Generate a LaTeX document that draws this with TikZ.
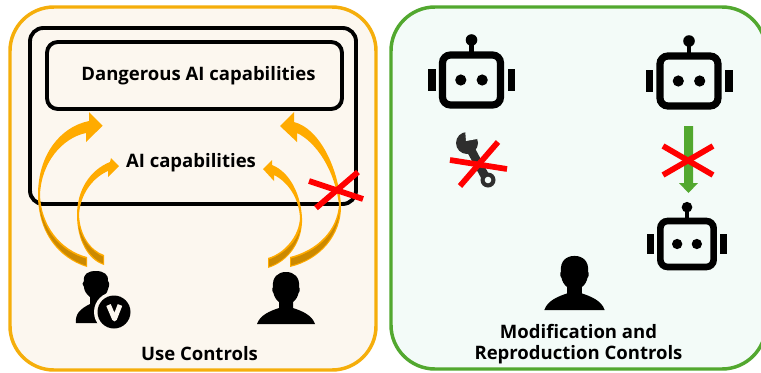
\documentclass[tikz,border=0pt]{standalone}
\usepackage{fontspec}
\setmainfont{Open Sans}
\definecolor{orangeedge}{HTML}{F5AE0B}
\definecolor{arrowor}{HTML}{FFAB00}
\definecolor{arrowdk}{HTML}{CC8900}
\definecolor{creamfill}{HTML}{FCF7EF}
\definecolor{greenedge}{HTML}{52A82F}
\definecolor{mintfill}{HTML}{F3FBF8}
\definecolor{crossred}{HTML}{FF0000}
\definecolor{wrench}{HTML}{2E2E2E}
\tikzset{
  x=0.75pt,y=-0.75pt,
  panel/.style={line width=2.6pt,rounded corners=33pt},
  box/.style={draw=black,line width=2.9pt},
  lbl/.style={font=\bfseries\fontsize{13.9}{15.75}\selectfont,text=black,inner sep=0pt,align=center},
  crossbar/.style={draw=crossred,line width=4.3pt},
}
\newcommand{\robot}[3]{%
\begin{scope}[shift={(#1,#2)},scale=#3]
  \draw[black,line width=#3*5.4pt,rounded corners=#3*6pt] (-29,-25) rectangle (29,25);
  \fill[black] (-43.5,-11) rectangle (-36,11);
  \fill[black] (36,-11) rectangle (43.5,11);
  \fill[black] (-2.2,-38) rectangle (2.2,-26);
  \fill[black] (0,-40) circle (5.8);
  \fill[black] (-10.7,0) circle (5.6);
  \fill[black] (10.7,0) circle (5.6);
\end{scope}}
\newcommand{\person}[3]{%
\begin{scope}[shift={(#1,#2)},scale=#3]
  \fill[black] (-29,0) .. controls (-26,-9) and (-16,-13) .. (-7,-16) -- (-7,-22)
    .. controls (-10,-24) and (-12,-28) .. (-12.5,-31) .. controls (-14,-32) and (-14,-36) .. (-13,-37)
    .. controls (-14,-47) and (-8,-52) .. (0,-52) .. controls (8,-52) and (14,-47) .. (13,-37)
    .. controls (14,-36) and (14,-32) .. (12.5,-31) .. controls (12,-28) and (10,-24) .. (7,-22)
    -- (7,-16) .. controls (16,-13) and (26,-9) .. (29,0) -- cycle;
\end{scope}}
\newcommand{\cross}[4]{\draw[crossbar] (#1) -- (#2); \draw[crossbar] (#3) -- (#4);}
\begin{document}
\begin{tikzpicture}
\useasboundingbox (0,0) rectangle (761,372);
\fill[white] (0,0) rectangle (761,372);
\draw[panel,draw=orangeedge,fill=creamfill] (10,7) rectangle (376,370);
\draw[panel,draw=greenedge,fill=mintfill] (391,7) rectangle (766,369);
\draw[box,rounded corners=10pt] (30,28) rectangle (356,204);
\draw[box,rounded corners=8pt] (47,42) rectangle (342,109);
\node[lbl] (danger) at (198.5,76) {Dangerous AI capabilities};
\node[lbl] (aicap) at (191,163) {AI capabilities};
\node[lbl] (use) at (199.5,354) {Use Controls};
\node[lbl] (mod) at (578.5,344) {Modification and\\Reproduction Controls};
% left outer arrow
\fill[arrowor] (87,267) .. controls (58,258) and (38,232) .. (38,195) .. controls (38,155) and (60,127) .. (89,121) -- (89,112) -- (102.7,125.7) -- (86,142) -- (86,133) .. controls (62,138) and (41,163) .. (40,195) .. controls (41,225) and (60,250) .. (87,257) -- cycle;
\fill[arrowdk] (86,265.5) .. controls (60,257) and (41,232) .. (39.5,205) .. controls (44,232) and (62,252) .. (86,258.5) -- cycle;
% left inner arrow
\fill[arrowor] (104,265) .. controls (88,260) and (77,240) .. (77,215) .. controls (77,190) and (90,170) .. (110,162) -- (111,158) -- (119,166) -- (108,177) -- (108,171) .. controls (92,178) and (80,195) .. (79,215) .. controls (80,235) and (90,250) .. (104,255) -- cycle;
\fill[arrowdk] (103,263.5) .. controls (90,258) and (80,242) .. (78.5,225) .. controls (82,240) and (92,252) .. (103,256.5) -- cycle;
% right inner arrow
\fill[arrowor] (268,268) .. controls (288,262) and (303,242) .. (302,218) .. controls (301,195) and (290,172) .. (272,165) -- (272,160) -- (263,169) -- (274,181) -- (274,175) .. controls (288,182) and (299,198) .. (300,218) .. controls (299,236) and (285,253) .. (268,258) -- cycle;
\fill[arrowdk] (269,266.5) .. controls (286,261) and (298,245) .. (300.5,228) .. controls (297,242) and (284,254) .. (269,259.5) -- cycle;
% right outer arrow
\fill[arrowor] (290,267) .. controls (320,260) and (342,235) .. (341,205) .. controls (338,165) and (318,128) .. (294,122) -- (294,112) -- (280,126) -- (297,142) -- (297,133) .. controls (316,142) and (335,170) .. (339,205) .. controls (337,230) and (318,250) .. (290,257) -- cycle;
\fill[arrowdk] (291,265.5) .. controls (318,259) and (337,238) .. (339.5,212) .. controls (335,235) and (316,252) .. (291,258.5) -- cycle;
% cross on the right arrow
\cross{309,181}{363,199}{358,172}{316,208}
% users
\person{286}{324}{1}
\fill[black] (76,323) .. controls (75,314) and (80,309) .. (90,304) -- (90,297)
  .. controls (86,294) and (84,290) .. (84,287) .. controls (82,285) and (82,282) .. (84,281)
  .. controls (83,274) and (88,271) .. (96,271) .. controls (104,271) and (109,275) .. (108,281)
  .. controls (110,283) and (109,287) .. (108,289) .. controls (107,293) and (105,296) .. (102,298)
  -- (102,304) -- (106,306) -- (100,323) -- cycle;
\fill[creamfill] (114,312) circle (20);
\fill[black] (114,312) circle (16.5);
\draw[creamfill,line width=3.6pt,line join=round] (108.5,305) -- (114.5,319) -- (120,305);
% right panel
\robot{471.5}{80}{1}
\robot{689}{81}{1}
\robot{687}{244}{0.92}
\person{574.5}{310}{1.04}
% wrench
\draw[wrench,line width=6.5pt] (471,150) -- (486,178);
\fill[wrench] (488,180) circle (7.5);
\fill[mintfill] (488,180) circle (3.3);
\fill[wrench] (467,143) circle (11);
\fill[mintfill] (466,141) -- (465,129) -- (480,131) -- (477,139) -- cycle;
\cross{450,160}{507,169}{498,142}{460,186}
% green arrow
\fill[greenedge] (684,126) -- (693,126) -- (693,183) -- (698,183) -- (688.5,193) -- (679,183) -- (684,183) -- cycle;
\cross{663,146}{713,175}{713,146}{663,175}
\end{tikzpicture}
\end{document}
